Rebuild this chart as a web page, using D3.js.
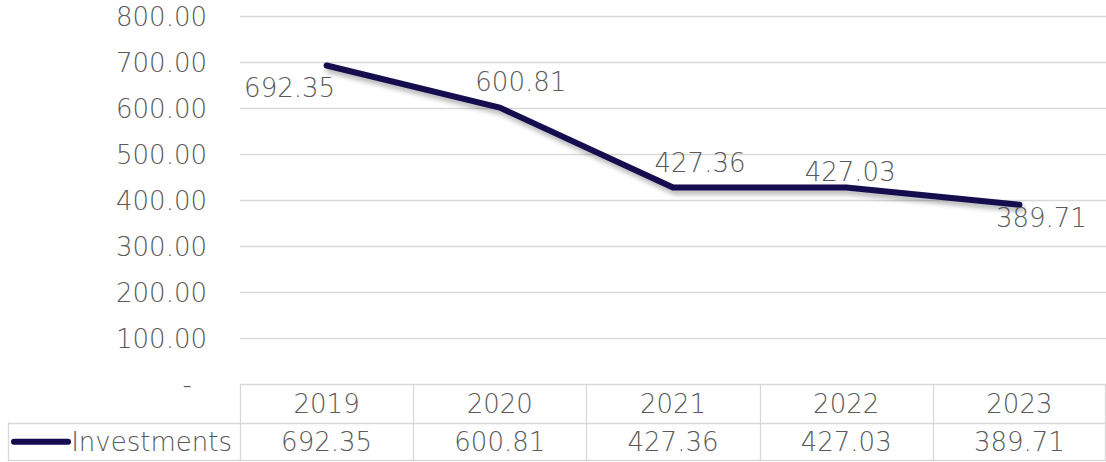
<!DOCTYPE html>
<html>
<head>
<meta charset="utf-8">
<script src="https://cdn.jsdelivr.net/npm/d3@7"></script>
<style>
  html, body { margin: 0; padding: 0; background: #fff; }
  svg { display: block; }
  text { font-family: "DejaVu Sans", sans-serif; font-weight: 200; fill: #595959; }
</style>
</head>
<body>
<svg id="chart" width="1106" height="462"></svg>
<script>
// Investments by year
const years = ["2019", "2020", "2021", "2022", "2023"];
const investments = [692.35, 600.81, 427.36, 427.03, 389.71];
const yTicks = [0, 100, 200, 300, 400, 500, 600, 700, 800];
const seriesName = "Investments";

// Where each data label sits relative to its point
const labelOffsets = [
  [-37, 22], [21, -26], [27, -25], [4, -16], [22, 13]
];

const W = 1106, H = 462;
const plot = { left: 240, right: 1106, top: 16, bottom: 384 };
const table = { left: 8, rowH: 38.5 };
const fontSize = 26;
const lineColor = "#140a4f";
const gridColor = "#d9d9d9";

const svg = d3.select("#chart");

const defs = svg.append("defs");
const shadow = defs.append("filter").attr("id", "shadow")
  .attr("x", "-5%").attr("y", "-20%").attr("width", "110%").attr("height", "140%");
shadow.append("feGaussianBlur").attr("in", "SourceAlpha").attr("stdDeviation", 2.5).attr("result", "b");
shadow.append("feOffset").attr("in", "b").attr("dx", 2).attr("dy", 4).attr("result", "o");
shadow.append("feComponentTransfer").attr("in", "o").attr("result", "s")
  .append("feFuncA").attr("type", "linear").attr("slope", 0.3);
const merge = shadow.append("feMerge");
merge.append("feMergeNode").attr("in", "s");
merge.append("feMergeNode").attr("in", "SourceGraphic");

const x = d3.scaleBand().domain(years).range([plot.left, plot.right]).padding(0);
const y = d3.scaleLinear().domain([0, 800]).range([plot.bottom, plot.top]);

// Gridlines
svg.append("g").selectAll("line").data(yTicks).join("line")
  .attr("x1", plot.left).attr("x2", plot.right)
  .attr("y1", d => Math.round(y(d)) + 0.5).attr("y2", d => Math.round(y(d)) + 0.5)
  .attr("stroke", gridColor).attr("stroke-width", 1.3);

// Y axis labels
const yAxis = d3.axisLeft(y).tickValues(yTicks).tickSize(0).tickPadding(0)
  .tickFormat(d => d === 0 ? "-" : d3.format(".2f")(d));
const ya = svg.append("g").attr("transform", `translate(207,0)`).call(yAxis);
ya.attr("font-family", null).attr("font-size", null);
ya.select(".domain").remove();
ya.selectAll("text")
  .attr("font-size", fontSize)
  .attr("dx", d => d === 0 ? -15 : 0)
  .attr("dy", "0.36em");

// Line
const line = d3.line()
  .x((d, i) => x(years[i]) + x.bandwidth() / 2)
  .y(d => y(d));
svg.append("path").datum(investments)
  .attr("d", line)
  .attr("fill", "none")
  .attr("stroke", lineColor)
  .attr("stroke-width", 6)
  .attr("stroke-linecap", "round")
  .attr("stroke-linejoin", "round")
  .attr("filter", "url(#shadow)");

// Data labels
svg.append("g").selectAll("text").data(investments).join("text")
  .attr("x", (d, i) => x(years[i]) + x.bandwidth() / 2 + labelOffsets[i][0])
  .attr("y", (d, i) => y(d) + labelOffsets[i][1])
  .attr("dy", "0.36em")
  .attr("text-anchor", "middle")
  .attr("font-size", fontSize)
  .text(d => d3.format(".2f")(d));

// Data table under the plot
const tg = svg.append("g");
const row1 = plot.bottom, row2 = plot.bottom + table.rowH, row3 = plot.bottom + 2 * table.rowH;
const hline = (x1, x2, yy) => tg.append("line").attr("x1", x1).attr("x2", x2)
  .attr("y1", yy).attr("y2", yy).attr("stroke", gridColor).attr("stroke-width", 1.3);
const vline = (xx, y1, y2) => tg.append("line").attr("x1", xx).attr("x2", xx)
  .attr("y1", y1).attr("y2", y2).attr("stroke", gridColor).attr("stroke-width", 1.3);

hline(table.left, plot.right, Math.round(row2) + 0.5);
hline(table.left, plot.right, Math.round(row3) - 0.5);
vline(table.left + 0.5, row2, row3);
years.forEach(yr => vline(Math.round(x(yr)) + 0.5, row1, row3));
vline(plot.right - 0.5, row1, row3);

tg.selectAll("text.year").data(years).join("text").attr("class", "year")
  .attr("x", d => x(d) + x.bandwidth() / 2)
  .attr("y", (row1 + row2) / 2).attr("dy", "0.36em")
  .attr("text-anchor", "middle").attr("font-size", fontSize)
  .text(d => d);

tg.selectAll("text.val").data(investments).join("text").attr("class", "val")
  .attr("x", (d, i) => x(years[i]) + x.bandwidth() / 2)
  .attr("y", (row2 + row3) / 2).attr("dy", "0.36em")
  .attr("text-anchor", "middle").attr("font-size", fontSize)
  .text(d => d3.format(".2f")(d));

// Legend key in the table's first column
tg.append("line")
  .attr("x1", 14).attr("x2", 68)
  .attr("y1", (row2 + row3) / 2).attr("y2", (row2 + row3) / 2)
  .attr("stroke", lineColor).attr("stroke-width", 6).attr("stroke-linecap", "round");
tg.append("text")
  .attr("x", 232).attr("y", (row2 + row3) / 2).attr("dy", "0.36em")
  .attr("text-anchor", "end").attr("font-size", fontSize)
  .text(seriesName);
</script>
</body>
</html>
